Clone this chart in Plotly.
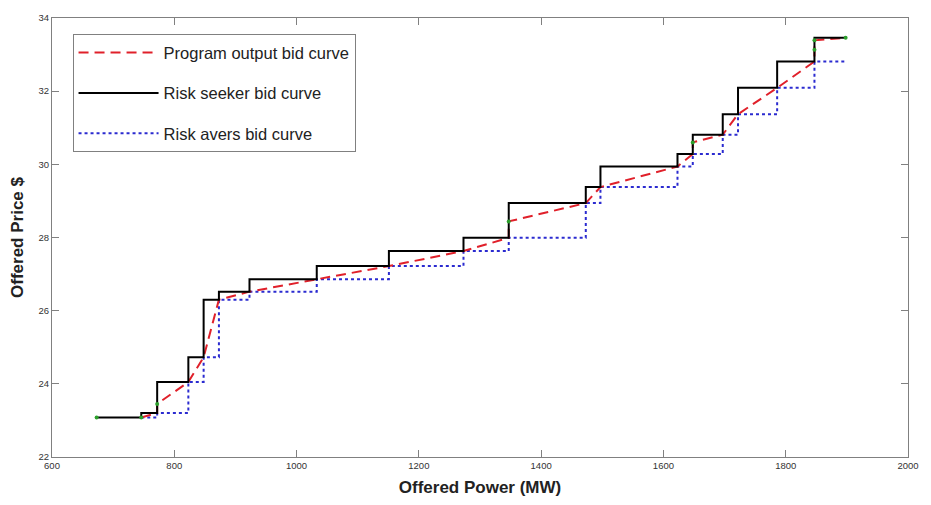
import plotly.graph_objects as go

# Risk seeker bid curve (step, horizontal-then-vertical)
seeker_mw = [673, 746, 772, 823, 848, 873, 923, 1033, 1151, 1273, 1347, 1473, 1497, 1623, 1648, 1697, 1722, 1786, 1847, 1898]
seeker_price = [23.08, 23.20, 24.05, 24.73, 26.30, 26.52, 26.86, 27.22, 27.63, 27.99, 28.94, 29.38, 29.94, 30.28, 30.81, 31.37, 32.09, 32.81, 33.46, 33.46]

# Risk avers bid curve (step, horizontal-then-vertical)
avers_mw = [746, 772, 823, 848, 873, 923, 1033, 1151, 1273, 1347, 1473, 1497, 1623, 1648, 1697, 1722, 1786, 1847, 1896]
avers_price = [23.08, 23.20, 24.05, 24.73, 26.30, 26.52, 26.86, 27.22, 27.63, 27.99, 28.94, 29.38, 29.94, 30.28, 30.81, 31.37, 32.09, 32.81, 32.81]

# Program output bid curve (piecewise linear)
program_mw = [746, 772, 772, 823, 848, 873, 923, 1033, 1151, 1273, 1347, 1347, 1473, 1497, 1623, 1648, 1648, 1697, 1722, 1786, 1847, 1847, 1847, 1898]
program_price = [23.08, 23.20, 23.45, 24.05, 24.73, 26.30, 26.52, 26.86, 27.22, 27.63, 27.99, 28.44, 28.94, 29.38, 29.94, 30.28, 30.60, 30.81, 31.37, 32.09, 32.81, 33.13, 33.39, 33.46]

# Green solution points
point_mw = [673, 746, 772, 1347, 1648, 1847, 1847, 1898]
point_price = [23.08, 23.08, 23.45, 28.44, 30.60, 33.13, 33.39, 33.46]

x_ticks = [600, 800, 1000, 1200, 1400, 1600, 1800, 2000]
y_ticks = [22, 24, 26, 28, 30, 32, 34]

fig = go.Figure()
fig.add_trace(go.Scatter(
    x=avers_mw, y=avers_price, mode="lines", line_shape="hv",
    name="Risk avers bid curve", legendrank=3, legendgroup="c",
    line=dict(color="#2b2bd0", width=2, dash="dot")))
fig.add_trace(go.Scatter(
    x=program_mw, y=program_price, mode="lines",
    name="Program output bid curve", legendrank=1, legendgroup="a",
    line=dict(color="#e0202a", width=2, dash="10px,6px")))
fig.add_trace(go.Scatter(
    x=seeker_mw, y=seeker_price, mode="lines", line_shape="hv",
    name="Risk seeker bid curve", legendrank=2, legendgroup="b",
    line=dict(color="#000000", width=2)))
fig.add_trace(go.Scatter(
    x=point_mw, y=point_price, mode="markers", showlegend=False,
    marker=dict(color="#2ca02c", size=4)))

axis_common = dict(
    showgrid=False, zeroline=False, showline=True, linecolor="#808080", linewidth=1,
    mirror="ticks", ticks="inside", ticklen=7, tickcolor="#808080", tickwidth=1,
    tickfont=dict(family="Arial, Liberation Sans, sans-serif", size=9.5, color="#333333"),
)

fig.update_layout(
    width=931, height=505,
    margin=dict(l=52, r=16, t=12, b=47),
    paper_bgcolor="white", plot_bgcolor="white",
    font=dict(family="Arial, Liberation Sans, sans-serif"),
    xaxis=dict(range=[600, 2000], tickvals=x_ticks,
               title=dict(text="<b>Offered Power (MW)</b>", font=dict(size=17, color="#222"), standoff=10),
               **axis_common),
    yaxis=dict(range=[22, 34], tickvals=y_ticks,
               title=dict(text="<b>Offered Price $</b>", font=dict(size=17, color="#222"), standoff=10),
               **axis_common),
    legend=dict(
        x=0.024, y=0.963, xanchor="left", yanchor="top",
        bgcolor="white", bordercolor="#808080", borderwidth=1,
        font=dict(size=16.5, color="#222"),
        traceorder="grouped", tracegroupgap=16,
        itemwidth=80,
    ),
    showlegend=True,
)

fig.write_html("out.html")
